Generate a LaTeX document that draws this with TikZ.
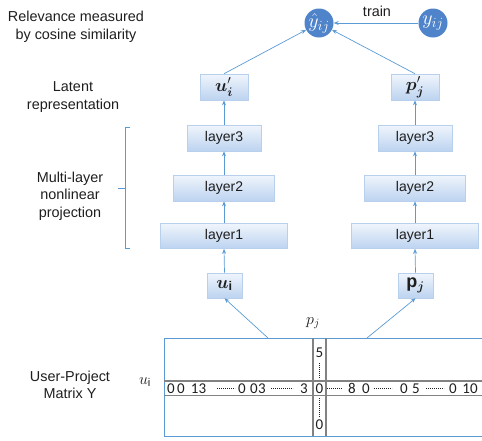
\RequirePackage{fix-cm}
\documentclass[tikz,border=0pt]{standalone}
\usepackage{amsmath}
\usepackage{fontspec}
\setmainfont{Liberation Sans}
\newfontfamily\numfont{Carlito}
\usetikzlibrary{arrows.meta}
\definecolor{lineblue}{RGB}{91,155,213}
\definecolor{circblue}{RGB}{79,131,202}
\definecolor{boxedge}{RGB}{185,208,236}
\definecolor{boxtop}{RGB}{240,245,252}
\definecolor{boxbot}{RGB}{188,211,240}
\definecolor{bandgray}{RGB}{130,130,130}
\definecolor{txt}{RGB}{30,30,30}
\begin{document}
\begin{tikzpicture}[x=1pt,y=-1pt,
  lbox/.style={draw=boxedge, line width=0.6pt, top color=boxtop, bottom color=boxbot,
    minimum height=26pt, inner sep=0pt, text=txt, font=\fontsize{14}{16}\selectfont},
  mbox/.style={lbox, font=\fontsize{18}{20}\selectfont},
  circ/.style={circle, fill=circblue, minimum size=29pt, inner sep=0pt, text=white,
    font=\fontsize{20}{22}\selectfont},
  arr/.style={-{Stealth[length=5pt,width=4pt]}, draw=lineblue, line width=0.7pt},
  lab/.style={align=center, text=txt, font=\fontsize{14.4}{17.5}\selectfont},
  mlab/.style={text=txt, font=\fontsize{16}{18}\selectfont},
  num/.style={inner sep=0pt, text=txt, font=\numfont\fontsize{15}{17}\selectfont},
  vdots/.style={draw=txt, line width=0.7pt, dash pattern=on 0.8pt off 1.2pt}
]
\useasboundingbox (0,0) rectangle (482,440);

% left labels
\node[lab] (t1) at (76,27) {Relevance measured\\by cosine similarity};
\node[lab] (t2) at (73,97) {Latent\\representation};
\node[lab] (t3) at (70,196) {Multi-layer\\nonlinear\\projection};
\node[lab] (t4) at (70,385) {User-Project\\Matrix Y};

% bracket
\draw[lineblue, line width=0.7pt] (130,127) -- (125,127) -- (125,248) -- (130,248);
\draw[lineblue, line width=0.7pt] (118,188) -- (125,188);

% circles
\node[circ] (yhat) at (319,23) {$\hat{y}_{ij}$};
\node[circ] (ytrue) at (433,23) {$y_{ij}$};
\node[lab] (train) at (377,11) {train};

% left column
\node[mbox, minimum width=48pt] (up) at (224,87) {$\boldsymbol{u}'_{\boldsymbol{i}}$};
\node[lbox, minimum width=74pt] (L3l) at (224,138) {layer3};
\node[lbox, minimum width=101pt] (L2l) at (224,188) {layer2};
\node[lbox, minimum width=127pt, minimum height=25pt] (L1l) at (224,236) {layer1};
\node[mbox, minimum width=35pt, minimum height=25pt] (ul) at (224.5,285.5) {$\boldsymbol{u}_{\mathbf{i}}$};

% right column
\node[mbox, minimum width=48pt] (pp) at (415,87) {$\boldsymbol{p}'_{\boldsymbol{j}}$};
\node[lbox, minimum width=74pt] (L3r) at (415,138) {layer3};
\node[lbox, minimum width=101pt] (L2r) at (415,188) {layer2};
\node[lbox, minimum width=127pt, minimum height=25pt] (L1r) at (415,236) {layer1};
\node[mbox, minimum width=35pt, minimum height=25pt] (pl) at (415.5,285.5) {$\mathbf{p}_{\boldsymbol{j}}$};

% arrows
\draw[arr] (ul.north) -- (L1l.south);
\draw[arr] (L1l.north) -- (L2l.south);
\draw[arr] (L2l.north) -- (L3l.south);
\draw[arr] (L3l.north) -- (up.south);
\draw[arr] (pl.north) -- (L1r.south);
\draw[arr] (L1r.north) -- (L2r.south);
\draw[arr] (L2r.north) -- (L3r.south);
\draw[arr] (L3r.north) -- (pp.south);
\draw[arr] (up.north) -- (yhat);
\draw[arr] (pp.north) -- (yhat);
\draw[arr] (ytrue) -- (yhat);

% matrix
\draw[lineblue, line width=0.8pt] (164,338) rectangle (492,436);
\draw[bandgray, line width=1.2pt] (164,381) -- (492,381) (164,395.5) -- (492,395.5);
\draw[bandgray, line width=1.2pt] (313,338) -- (313,436) (326,338) -- (326,436);
\coordinate (m1) at (268,338);
\coordinate (m2) at (367,338);
\draw[arr] (m1) -- (ul.south);
\draw[arr] (m2) -- (pl.south);

\node[mlab] (pjl) at (313,323) {$p_j$};
\node[mlab] (uil) at (145,382) {$u_{\mathrm{i}}$};

% column values
\node[num] (c5) at (319.5,353) {5};
\draw[vdots] (319.5,363) -- (319.5,379);
\draw[vdots] (319.5,398) -- (319.5,417);
\node[num] (c0) at (319.5,425) {0};

% row values
\foreach \x/\t [count=\k] in {171/0, 181/0, 198.5/13, 242/0, 254/0, 262/3, 304/3, 319.5/0, 352/8, 366/0, 404/0, 416/5, 453/0, 470/10}
  \node[num] (r\k) at (\x,388.5) {\t};
\foreach \a/\b in {217/235, 271/293, 327/342, 374/392, 426/444}
  \draw[vdots] (\a,388.5) -- (\b,388.5);
\end{tikzpicture}
\end{document}
